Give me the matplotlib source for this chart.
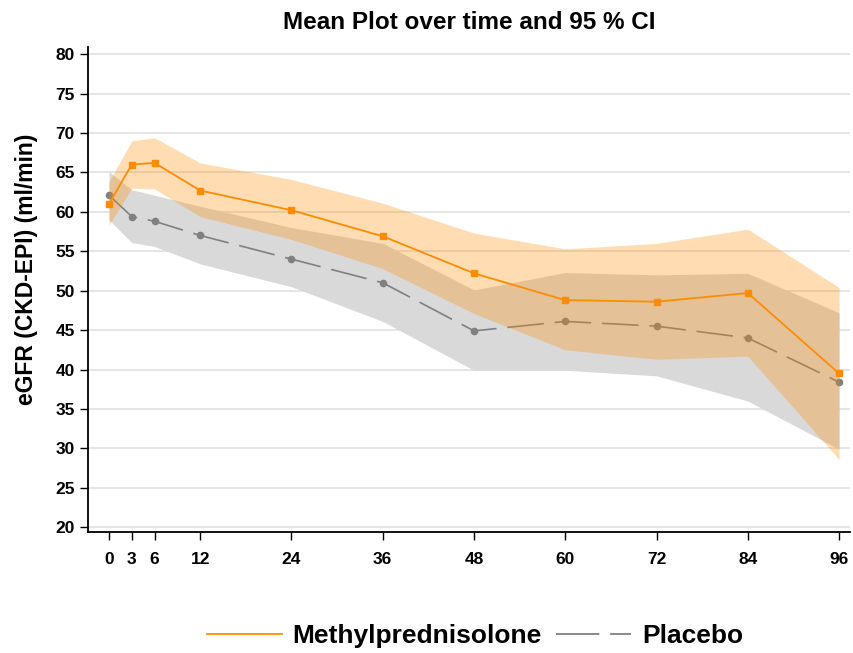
import numpy as np
import matplotlib
matplotlib.use('Agg')
import matplotlib.pyplot as plt
from matplotlib.lines import Line2D

months = [0, 3, 6, 12, 24, 36, 48, 60, 72, 84, 96]

# Methylprednisolone: mean and 95% CI
mp_mean = [61.0, 66.0, 66.2, 62.7, 60.2, 56.9, 52.2, 48.8, 48.6, 49.7, 39.5]
mp_low = [58.3, 63.0, 62.9, 59.4, 56.5, 52.8, 47.1, 42.5, 41.3, 41.7, 28.6]
mp_high = [63.8, 69.0, 69.4, 66.2, 64.1, 61.1, 57.3, 55.3, 56.0, 57.8, 50.4]

# Placebo: mean and 95% CI
pl_mean = [62.1, 59.4, 58.8, 57.0, 54.0, 51.0, 44.9, 46.1, 45.5, 44.0, 38.4]
pl_low = [59.0, 56.1, 55.6, 53.4, 50.5, 46.1, 39.9, 39.9, 39.2, 36.0, 29.9]
pl_high = [65.1, 62.8, 62.1, 60.7, 58.0, 56.0, 50.1, 52.3, 52.0, 52.2, 47.2]

orange = '#ff8c00'
grey = '#808080'
font = 'Liberation Sans'

fig = plt.figure(figsize=(8.54, 6.53), dpi=100)
ax = fig.add_axes([0.103, 0.185, 0.892, 0.743])

ax.fill_between(months, pl_low, pl_high, color='#d9d9d9', lw=0, zorder=1)
ax.plot(months, pl_mean, color=grey, lw=1.2, marker='o', ms=4.5,
        dashes=(22, 6.5), zorder=2)
ax.fill_between(months, mp_low, mp_high, color=orange, alpha=0.3, lw=0,
                zorder=3)
ax.plot(months, mp_mean, color=orange, lw=1.3, marker='s', ms=4, zorder=4)

ax.set_xlim(-2.76, 97.4)
ax.set_ylim(19.37, 80.9)
ax.set_yticks(np.arange(20, 81, 5))
ax.set_xticks(months)
ax.yaxis.grid(True, color='#e0e0e0', lw=1.2)
ax.set_axisbelow(True)

for s in ['top', 'right']:
    ax.spines[s].set_visible(False)
for s in ['left', 'bottom']:
    ax.spines[s].set_linewidth(1.3)

ax.tick_params(axis='both', direction='out', length=6, width=1.0)
ax.tick_params(axis='x', pad=8)
for lab in ax.get_xticklabels() + ax.get_yticklabels():
    lab.set_family(font)
    lab.set_fontweight('bold')
    lab.set_fontsize(12.5)

ax.set_ylabel('eGFR (CKD-EPI) (ml/min)', fontsize=16.5, fontweight='bold',
              family=font)
ax.yaxis.set_label_coords(-0.066, 0.542)
ax.set_title('Mean Plot over time and 95 % CI', fontsize=17.5,
             fontweight='bold', family=font, pad=13)

handles = [Line2D([], [], color=orange, lw=1.3),
           Line2D([], [], color=grey, lw=1.3, dashes=(24, 6))]
fig.legend(handles, ['Methylprednisolone', 'Placebo'], loc='center',
           bbox_to_anchor=(0.556, 0.026), ncol=2, frameon=False,
           prop={'family': font, 'size': 19, 'weight': 'bold'},
           handlelength=2.85, columnspacing=0.55, handletextpad=0.4)

fig.savefig('out.png', dpi=100)
